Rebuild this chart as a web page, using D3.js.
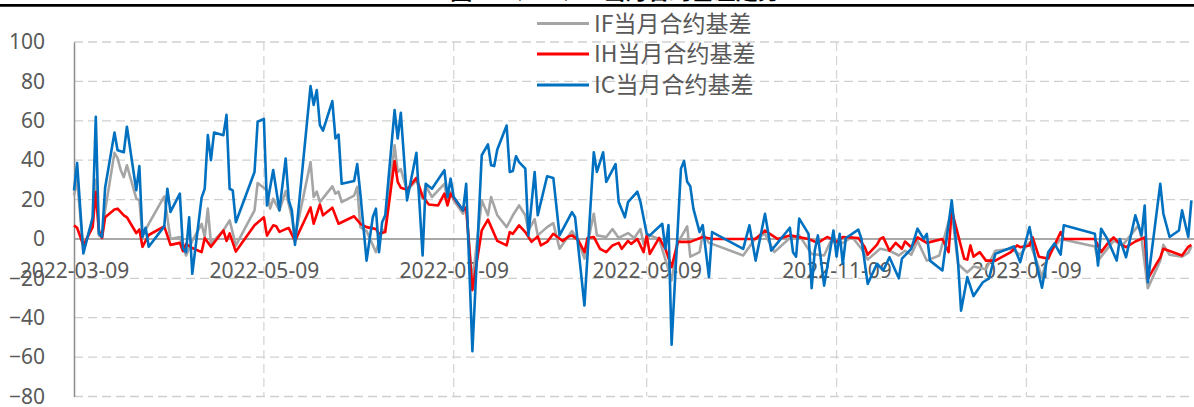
<!DOCTYPE html>
<html>
<head>
<meta charset="utf-8">
<script src="https://cdn.jsdelivr.net/npm/d3@7"></script>
<style>
  body { margin: 0; background: #fff; }
</style>
</head>
<body>
<div id="chart"></div>
<script>
// basis of current-month contracts: IF / IH / IC

const seriesNames = ["IF当月合约基差", "IH当月合约基差", "IC当月合约基差"];
const seriesColors = ["#A5A5A5", "#FF0000", "#0070C0"];

const yTicks = [-80, -60, -40, -20, 0, 20, 40, 60, 80, 100];
const xTickLabels = ["2022-03-09", "2022-05-09", "2022-07-09", "2022-09-09", "2022-11-09", "2023-01-09"];

const ifSeries = [
  ["2022-03-09",22],["2022-03-10",30],["2022-03-12",-6],["2022-03-15",10],["2022-03-16",30],["2022-03-17",1.7],
  ["2022-03-18",1],["2022-03-19",14.5],["2022-03-22",43.7],["2022-03-23",41],["2022-03-24",35],["2022-03-25",31.4],
  ["2022-03-26",37.4],["2022-03-29",20.6],["2022-03-30",19.6],["2022-03-31",1.7],["2022-04-02",7.7],["2022-04-07",21.6],
  ["2022-04-09",0],["2022-04-12",1],["2022-04-14",-8.4],["2022-04-16",-1],["2022-04-19",7.7],["2022-04-20",1],
  ["2022-04-21",15.4],["2022-04-22",-2.5],["2022-04-26",4.3],["2022-04-28",9.4],["2022-04-30",-3.3],["2022-05-06",14.5],
  ["2022-05-07",28.4],["2022-05-10",24.7],["2022-05-11",15.4],["2022-05-12",20.4],["2022-05-14",14.5],["2022-05-16",24.3],
  ["2022-05-18",11],["2022-05-19",1],["2022-05-24",39],["2022-05-25",21.3],["2022-05-26",24],["2022-05-27",18.7],
  ["2022-05-31",26.7],["2022-06-01",23],["2022-06-02",24],["2022-06-03",18.7],["2022-06-07",22],["2022-06-08",26.4],
  ["2022-06-09",6],["2022-06-11",4],["2022-06-14",-6.7],["2022-06-16",4],["2022-06-17",5],["2022-06-20",47.6],
  ["2022-06-21",34],["2022-06-22",35.5],["2022-06-24",24.7],["2022-06-27",29.8],["2022-06-29",20.4],["2022-06-30",27],
  ["2022-07-02",21.3],["2022-07-06",28],["2022-07-07",19.6],["2022-07-08",24],["2022-07-09",19.6],["2022-07-12",12.8],
  ["2022-07-13",16],["2022-07-15",-22],["2022-07-18",19.6],["2022-07-20",12],["2022-07-21",21.3],["2022-07-23",12],
  ["2022-07-26",6],["2022-07-28",12],["2022-07-30",17],["2022-08-01",12],["2022-08-02",4.3],["2022-08-04",10],
  ["2022-08-05",1.8],["2022-08-08",6],["2022-08-10",8],["2022-08-12",-5],["2022-08-16",4],["2022-08-18",-1],
  ["2022-08-20",-10],["2022-08-23",12.8],["2022-08-24",1.8],["2022-08-27",1],["2022-08-29",5],["2022-08-31",0.5],
  ["2022-09-03",3],["2022-09-05",0.5],["2022-09-07",5],["2022-09-08",-2.5],["2022-09-10",1.8],["2022-09-13",0],
  ["2022-09-17",-21],["2022-09-19",-2],["2022-09-22",6.4],["2022-09-23",-9],["2022-09-26",-6.7],["2022-09-27",2.6],
  ["2022-09-29",-2],["2022-09-30",-2.5],["2022-10-10",-8.4],["2022-10-14",0.5],["2022-10-17",2.6],["2022-10-20",-6.7],
  ["2022-10-25",0.5],["2022-10-28",1.8],["2022-11-01",-7.6],["2022-11-05",-8.4],["2022-11-07",-1.5],["2022-11-11",-2],
  ["2022-11-14",1],["2022-11-17",-5],["2022-11-19",-10.5],["2022-11-23",-5],["2022-11-26",-6],["2022-11-29",-8.4],
  ["2022-12-01",-6],["2022-12-03",-8],["2022-12-05",-1],["2022-12-08",-11],["2022-12-12",-8.4],["2022-12-16",14.5],
  ["2022-12-18",-12.7],["2022-12-21",-17],["2022-12-23",-14],["2022-12-27",-15.4],["2022-12-30",-6],["2023-01-04",-5],
  ["2023-01-07",-8],["2023-01-10",-1.7],["2023-01-12",-10],["2023-01-14",-19.4],["2023-01-16",-8],["2023-01-20",0],
  ["2023-01-31",-3.8],["2023-02-01",-11],["2023-02-06",-1],["2023-02-09",-3],["2023-02-14",6.9],["2023-02-15",0],
  ["2023-02-17",-25],["2023-02-21",-11],["2023-02-22",-3],["2023-02-24",-8],["2023-02-28",-9],["2023-03-02",-7],
  ["2023-03-03",-3.8]
];

const ihSeries = [
  ["2022-03-09",6.9],["2022-03-10",5.7],["2022-03-12",-3.3],["2022-03-15",6],["2022-03-16",23.8],["2022-03-17",4.3],
  ["2022-03-18",0.5],["2022-03-19",11],["2022-03-22",14.9],["2022-03-23",15.4],["2022-03-25",12],["2022-03-26",11],
  ["2022-03-29",3],["2022-03-30",4.8],["2022-03-31",-4],["2022-04-02",2],["2022-04-07",6.4],["2022-04-09",-3],
  ["2022-04-12",-2],["2022-04-13",-6.2],["2022-04-14",-2.5],["2022-04-16",-4.6],["2022-04-19",-6.7],["2022-04-20",0.5],
  ["2022-04-22",-4],["2022-04-26",4.3],["2022-04-27",-1],["2022-04-28",2.8],["2022-04-30",-6.4],["2022-05-06",6.9],
  ["2022-05-09",11],["2022-05-10",1.7],["2022-05-12",6.9],["2022-05-13",6.4],["2022-05-14",3.6],["2022-05-16",5],
  ["2022-05-17",5.5],["2022-05-19",-1],["2022-05-24",16],["2022-05-25",7.7],["2022-05-27",17.5],["2022-05-28",12],
  ["2022-05-31",15.9],["2022-06-02",7.7],["2022-06-07",11.5],["2022-06-09",7.7],["2022-06-11",6],["2022-06-14",5],
  ["2022-06-15",2.6],["2022-06-17",3.5],["2022-06-20",39.6],["2022-06-21",29],["2022-06-22",26],["2022-06-24",25],
  ["2022-06-27",31],["2022-06-29",21.6],["2022-07-01",17.5],["2022-07-04",17],["2022-07-06",23],["2022-07-07",17],
  ["2022-07-08",23],["2022-07-12",14.5],["2022-07-13",16],["2022-07-15",-26],["2022-07-18",4.3],["2022-07-20",9.8],
  ["2022-07-23",-1],["2022-07-26",-3.3],["2022-07-27",3.5],["2022-07-28",2.6],["2022-07-30",6.9],["2022-08-01",3.5],
  ["2022-08-03",-1.5],["2022-08-05",1.3],["2022-08-06",-3.3],["2022-08-08",-1.5],["2022-08-10",2.6],["2022-08-13",-1],
  ["2022-08-15",1.3],["2022-08-16",1.8],["2022-08-18",-0.6],["2022-08-20",-6.7],["2022-08-21",0.5],["2022-08-23",1],
  ["2022-08-25",-5],["2022-08-27",-6.7],["2022-08-29",-3.3],["2022-08-31",-2],["2022-09-01",-5],["2022-09-03",-1],
  ["2022-09-04",-2.5],["2022-09-06",0],["2022-09-08",-6.7],["2022-09-09",1.8],["2022-09-10",-7.6],["2022-09-13",0.5],
  ["2022-09-15",-5],["2022-09-17",-14.3],["2022-09-19",-1.5],["2022-09-23",-1.5],["2022-09-27",1],["2022-09-30",0],
  ["2022-10-14",0],["2022-10-17",4.3],["2022-10-21",0],["2022-10-25",1.8],["2022-10-31",0],["2022-11-03",-2],
  ["2022-11-06",1],["2022-11-09",-1.5],["2022-11-11",1],["2022-11-16",0.5],["2022-11-18",-4],["2022-11-19",-8],
  ["2022-11-22",-2.9],["2022-11-23",0],["2022-11-24",0.8],["2022-11-26",-6],["2022-11-28",-2],["2022-11-30",-5],
  ["2022-12-01",-1.3],["2022-12-03",-4.2],["2022-12-05",0.8],["2022-12-08",-2],["2022-12-13",0],["2022-12-15",-6.7],
  ["2022-12-16",14.5],["2022-12-20",-10],["2022-12-21",-10.5],["2022-12-22",-3.3],["2022-12-23",-9],["2022-12-25",-6.7],
  ["2022-12-27",-11],["2022-12-30",-11],["2023-01-04",-6.7],["2023-01-06",-3.3],["2023-01-07",-4.2],["2023-01-10",-3.3],
  ["2023-01-11",0.8],["2023-01-13",-9],["2023-01-16",-10],["2023-01-20",3.5],["2023-01-21",0],["2023-01-31",0],
  ["2023-02-02",-6.7],["2023-02-04",-2.5],["2023-02-06",0.8],["2023-02-08",-2.5],["2023-02-10",-4.2],["2023-02-13",-1.3],
  ["2023-02-16",0.8],["2023-02-17",-20.3],["2023-02-20",-12],["2023-02-21",-9.5],["2023-02-22",-5],["2023-02-28",-8.4],
  ["2023-03-02",-4],["2023-03-03",-3]
];

const icSeries = [
  ["2022-03-09",24.6],["2022-03-10",38.6],["2022-03-12",-7.4],["2022-03-15",11],["2022-03-16",62],["2022-03-17",2.8],
  ["2022-03-18",1],["2022-03-19",26],["2022-03-22",54],["2022-03-23",45],["2022-03-25",44],["2022-03-26",57],
  ["2022-03-29",24.7],["2022-03-30",37],["2022-03-31",1],["2022-04-01",5.7],["2022-04-02",-4],["2022-04-07",6.4],
  ["2022-04-08",25.5],["2022-04-09",13.7],["2022-04-12",23],["2022-04-13",-4.8],["2022-04-14",-6.7],["2022-04-15",11],
  ["2022-04-16",-17.7],["2022-04-19",21],["2022-04-20",25.5],["2022-04-21",52.7],["2022-04-22",40],["2022-04-23",54],
  ["2022-04-26",52.7],["2022-04-27",63],["2022-04-28",25.5],["2022-04-29",24.7],["2022-04-30",8.5],["2022-05-06",34],
  ["2022-05-07",59.5],["2022-05-09",61],["2022-05-10",17],["2022-05-12",35],["2022-05-14",14.5],["2022-05-16",40.8],
  ["2022-05-17",19.6],["2022-05-18",14.5],["2022-05-19",-3],["2022-05-24",77.6],["2022-05-25",68],["2022-05-26",75.6],
  ["2022-05-27",57.8],["2022-05-28",55],["2022-05-31",70],["2022-06-01",51],["2022-06-02",53],["2022-06-03",28],
  ["2022-06-07",29.4],["2022-06-08",38],["2022-06-09",23],["2022-06-11",-11],["2022-06-13",11],["2022-06-14",15.4],
  ["2022-06-15",-6.7],["2022-06-16",8.5],["2022-06-17",12],["2022-06-20",65.4],["2022-06-21",51],["2022-06-22",64],
  ["2022-06-24",19.6],["2022-06-27",43.7],["2022-06-29",-8.4],["2022-06-30",28],["2022-07-02",25.5],["2022-07-06",34.9],
  ["2022-07-07",21.3],["2022-07-08",30.6],["2022-07-09",21.3],["2022-07-12",14.5],["2022-07-13",28],["2022-07-15",-57],
  ["2022-07-18",42.5],["2022-07-20",48],["2022-07-21",37.4],["2022-07-22",37],["2022-07-23",45.4],["2022-07-26",57.6],
  ["2022-07-27",34],["2022-07-28",34.5],["2022-07-29",42],["2022-07-30",39],["2022-08-01",35.7],["2022-08-02",1.8],
  ["2022-08-04",34],["2022-08-05",12],["2022-08-08",31.8],["2022-08-10",31],["2022-08-12",1.8],["2022-08-16",13.6],
  ["2022-08-17",11],["2022-08-20",-33.8],["2022-08-23",44],["2022-08-24",34],["2022-08-26",44],["2022-08-27",29],
  ["2022-08-30",38],["2022-08-31",18.7],["2022-09-02",11],["2022-09-03",18.7],["2022-09-06",24],["2022-09-07",18.7],
  ["2022-09-09",2.6],["2022-09-10",1.8],["2022-09-14",7.7],["2022-09-15",-5],["2022-09-16",7],["2022-09-17",-53.7],
  ["2022-09-20",35.7],["2022-09-21",39.6],["2022-09-22",29],["2022-09-23",26.7],["2022-09-24",15.4],["2022-09-26",3.5],
  ["2022-09-27",7],["2022-09-29",-19.4],["2022-09-30",3.5],["2022-10-10",-5],["2022-10-12",6.9],["2022-10-14",-11],
  ["2022-10-17",12.8],["2022-10-19",-5.9],["2022-10-25",5.7],["2022-10-26",-6.7],["2022-10-27",-9],["2022-10-28",10.3],
  ["2022-10-31",2.6],["2022-11-01",-25],["2022-11-02",-5.9],["2022-11-03",1.8],["2022-11-05",-23.7],["2022-11-08",4.3],
  ["2022-11-09",-9],["2022-11-10",2.6],["2022-11-11",-12.6],["2022-11-12",0.5],["2022-11-16",4.7],["2022-11-17",0],
  ["2022-11-19",-22.8],["2022-11-22",-12.6],["2022-11-24",-16],["2022-11-26",-9.3],["2022-11-29",-20],["2022-11-30",-10],
  ["2022-12-03",-5],["2022-12-05",5.2],["2022-12-07",0],["2022-12-08",2.6],["2022-12-09",-11],["2022-12-13",-16],
  ["2022-12-16",19.6],["2022-12-18",-11],["2022-12-19",-36.4],["2022-12-21",-19.4],["2022-12-23",-29],["2022-12-26",-22],
  ["2022-12-28",-20],["2022-12-30",-7.6],["2023-01-05",-3.8],["2023-01-07",-11.8],["2023-01-10",6],["2023-01-12",-11],
  ["2023-01-14",-24.8],["2023-01-16",-6.7],["2023-01-18",-2.3],["2023-01-20",-8],["2023-01-21",6.9],["2023-01-31",2.6],
  ["2023-02-01",-13.5],["2023-02-02",5.2],["2023-02-04",0],["2023-02-07",-11],["2023-02-08",0],["2023-02-10",-9.3],
  ["2023-02-13",12],["2023-02-15",1.8],["2023-02-16",17],["2023-02-17",-22],["2023-02-21",28],["2023-02-22",12.8],
  ["2023-02-24",1],["2023-02-27",4.3],["2023-02-28",14.5],["2023-03-02",1],["2023-03-03",19.6]
];

const allSeries = [ifSeries, ihSeries, icSeries];

// Set up SVG
const width = 1194;
const height = 407;
const margin = { top: 42, right: 0, bottom: 10.5, left: 74 };

const parseDate = d3.timeParse("%Y-%m-%d");
const fmtDate = d3.timeFormat("%Y-%m-%d");

const svg = d3.select("#chart")
  .append("svg")
  .attr("width", width)
  .attr("height", height)
  .style("font-family", "'Noto Sans', 'Noto Sans CJK SC', sans-serif");

// scales (one day is about 3.11px)
const x = d3.scaleTime()
  .domain([parseDate("2022-03-09"), parseDate("2023-03-04")])
  .range([margin.left, margin.left + 360 * 3.1125]);

const y = d3.scaleLinear()
  .domain([-80, 100])
  .range([height - margin.bottom, margin.top]);

// title strip (mostly cut off at the top) and black rule
svg.append("text")
  .attr("x", 615)
  .attr("y", -1.5)
  .attr("text-anchor", "middle")
  .style("font-family", "'Noto Sans CJK SC', sans-serif")
  .style("font-size", "22px")
  .style("font-weight", "bold")
  .style("fill", "#000")
  .text("图：IF、IH、IC当月合约基差走势");

svg.append("line")
  .attr("x1", 0).attr("x2", width)
  .attr("y1", 5.3).attr("y2", 5.3)
  .attr("stroke", "#000")
  .attr("stroke-width", 2.8);

// horizontal grid
svg.append("g")
  .selectAll("line")
  .data(yTicks.filter(t => t !== 0))
  .enter()
  .append("line")
  .attr("x1", margin.left).attr("x2", width)
  .attr("y1", d => y(d)).attr("y2", d => y(d))
  .attr("stroke", "#CFCFCF")
  .attr("stroke-width", 1.3)
  .attr("stroke-dasharray", "9,5");

// vertical grid at the date ticks
svg.append("g")
  .selectAll("line")
  .data(xTickLabels.slice(1))
  .enter()
  .append("line")
  .attr("x1", d => x(parseDate(d))).attr("x2", d => x(parseDate(d)))
  .attr("y1", y(100)).attr("y2", y(-80))
  .attr("stroke", "#D6D6D6")
  .attr("stroke-width", 1.3)
  .attr("stroke-dasharray", "9,5");

// y axis
const yAxis = svg.append("g")
  .attr("transform", `translate(${margin.left},0)`)
  .call(d3.axisLeft(y).tickValues(yTicks).tickSize(0).tickPadding(29));
yAxis.select(".domain")
  .attr("stroke", "#8C8C8C")
  .attr("stroke-width", 1.5);
yAxis.selectAll("text")
  .style("font-size", "21px")
  .style("font-family", "'Noto Sans', sans-serif")
  .style("fill", "#595959");

// x axis sits on the zero line
const xAxis = svg.append("g")
  .attr("transform", `translate(0,${y(0)})`)
  .call(d3.axisBottom(x)
    .tickValues(xTickLabels.map(parseDate))
    .tickFormat(fmtDate)
    .tickSize(0)
    .tickPadding(24));
xAxis.select(".domain").remove();
xAxis.selectAll("text")
  .style("font-size", "21px")
  .style("font-family", "'Noto Sans', sans-serif")
  .style("fill", "#595959");

svg.append("line")
  .attr("x1", margin.left).attr("x2", width)
  .attr("y1", y(0)).attr("y2", y(0))
  .attr("stroke", "#8C8C8C")
  .attr("stroke-width", 1.6);

// lines
const line = d3.line()
  .x(d => x(parseDate(d[0])))
  .y(d => y(d[1]));

svg.append("g")
  .selectAll("path")
  .data(allSeries)
  .enter()
  .append("path")
  .attr("d", line)
  .attr("fill", "none")
  .attr("stroke", (d, i) => seriesColors[i])
  .attr("stroke-width", 2.6)
  .attr("stroke-linejoin", "round");

// legend
const legendY = [23.5, 54, 85];
const legend = svg.append("g");
seriesNames.forEach((name, i) => {
  legend.append("line")
    .attr("x1", 537).attr("x2", 589)
    .attr("y1", legendY[i]).attr("y2", legendY[i])
    .attr("stroke", seriesColors[i])
    .attr("stroke-width", 3);
  legend.append("text")
    .attr("x", 594)
    .attr("y", legendY[i])
    .attr("dy", "0.36em")
    .style("font-family", "'Noto Sans CJK SC', sans-serif")
    .style("font-size", "23px")
    .style("fill", "#595959")
    .text(name);
});
</script>
</body>
</html>
